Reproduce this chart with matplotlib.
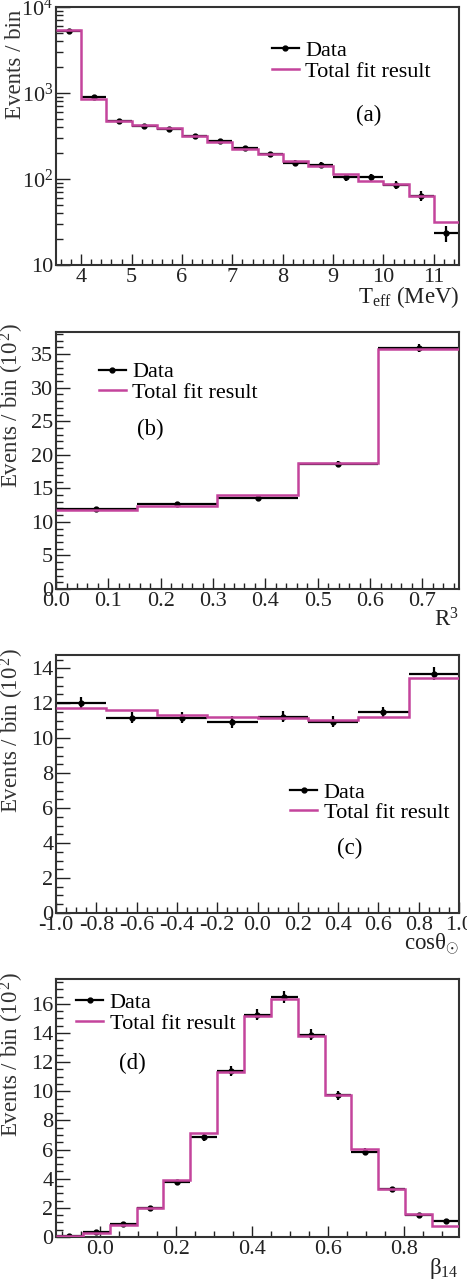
import numpy as np
import matplotlib
matplotlib.use("Agg")
import matplotlib.pyplot as plt
from matplotlib.lines import Line2D
from matplotlib.ticker import MultipleLocator, FixedLocator, FuncFormatter, LogLocator, NullFormatter

plt.rcParams['font.family'] = ['Liberation Serif', 'DejaVu Serif']
plt.rcParams['mathtext.fontset'] = 'custom'
plt.rcParams['mathtext.rm'] = 'Liberation Serif'
plt.rcParams['mathtext.it'] = 'Liberation Serif:italic'
plt.rcParams['axes.unicode_minus'] = False

FIT = '#c4449c'

# (a) effective kinetic energy, log scale
edges_a = [3.5, 4.0, 4.5, 5.0, 5.5, 6.0, 6.5, 7.0, 7.5, 8.0, 8.5, 9.0, 9.5, 10.0, 10.5, 11.0, 11.5]
data_a = [5280, 890, 470, 410, 385, 313, 274, 229, 193, 155, 146, 105, 105, 85, 64, 23.3]
err_a = [73, 30, 22, 20, 20, 18, 17, 15, 14, 12, 12, 10, 10, 9, 8, 5]
fit_a = [5400, 860, 475, 422, 390, 316, 269, 221, 195, 163, 140, 113, 95.5, 88, 64, 32]

# (b) R^3
edges_b = [0.0, 0.154, 0.308, 0.462, 0.616, 0.77]
data_b = [11.9, 12.6, 13.6, 18.6, 35.9]
err_b = [0.35, 0.36, 0.37, 0.43, 0.6]
fit_b = [11.8, 12.3, 14.0, 18.8, 35.8]

# (c) cos theta_sun
edges_c = [-1.0, -0.75, -0.5, -0.25, 0.0, 0.25, 0.5, 0.75, 1.0]
data_c = [12.0, 11.18, 11.18, 10.93, 11.24, 10.95, 11.47, 13.7]
err_c = [0.35, 0.34, 0.34, 0.33, 0.34, 0.33, 0.34, 0.37]
fit_c = [11.75, 11.6, 11.33, 11.22, 11.16, 11.05, 11.22, 13.47]

# (d) beta_14
edges_d = [-0.116, -0.0453, 0.0254, 0.0961, 0.1668, 0.2375, 0.3082, 0.3789,
           0.4496, 0.5203, 0.591, 0.6617, 0.7324, 0.8031, 0.8738, 0.945]
data_d = [0.05, 0.34, 0.92, 1.99, 3.75, 6.86, 11.37, 15.26, 16.48, 13.89, 9.73, 5.84, 3.27, 1.49, 1.12]
err_d = [0.02, 0.06, 0.1, 0.14, 0.19, 0.26, 0.34, 0.39, 0.41, 0.37, 0.31, 0.24, 0.18, 0.12, 0.11]
fit_d = [0.06, 0.27, 0.85, 1.97, 3.94, 7.14, 11.35, 15.2, 16.34, 13.82, 9.73, 6.06, 3.32, 1.6, 0.73]

fig = plt.figure(figsize=(4.67, 12.81), dpi=100)

ylab2 = 'Events / bin (10$^{\\,2}$)'
panels = [
    dict(rect=[0.120, 0.7931, 0.863, 0.2014], edges=edges_a, data=data_a, err=err_a, fit=fit_a,
         xlim=(3.5, 11.5), ylim=(10, 1e4), xlabel=r'T$_{\rm eff}$ (MeV)', ylabel='Events / bin',
         tag='(a)', tagpos=(0.744, 0.578), legpos=(0.536, 0.791), log=True, labtop=0.99,
         xmaj=1, xmin=0.2, xfmt='%d'),
    dict(rect=[0.120, 0.5402, 0.863, 0.2006], edges=edges_b, data=data_b, err=err_b, fit=fit_b,
         xlim=(0, 0.77), ylim=(0, 38.3), xlabel=r'R$^3$', ylabel=ylab2,
         tag='(b)', tagpos=(0.20, 0.619), legpos=(0.107, 0.804), log=False, labtop=1.035,
         xmaj=0.1, xmin=0.02, xfmt='%.1f', ymaj=5, ymin=1),
    dict(rect=[0.120, 0.2873, 0.863, 0.2014], edges=edges_c, data=data_c, err=err_c, fit=fit_c,
         xlim=(-1, 1), ylim=(0, 14.76), xlabel='cosθ$_{\\odot}$', ylabel=ylab2,
         tag='(c)', tagpos=(0.697, 0.252), legpos=(0.581, 0.428), log=False, labtop=1.027,
         xmaj=0.2, xmin=0.05, xfmt='%.1f', ymaj=2, ymin=0.5),
    dict(rect=[0.120, 0.0343, 0.863, 0.2014], edges=edges_d, data=data_d, err=err_d, fit=fit_d,
         xlim=(-0.116, 0.945), ylim=(0, 17.7), xlabel='β$_{14}$', ylabel=ylab2,
         tag='(d)', tagpos=(0.156, 0.674), legpos=(0.050, 0.868), log=False, labtop=1.027,
         xmaj=0.2, xmin=0.05, xfmt='%.1f', ymaj=2, ymin=0.5),
]

for p in panels:
    ax = fig.add_axes(p['rect'])
    edges = np.array(p['edges'])
    centers = 0.5 * (edges[:-1] + edges[1:])
    halfw = 0.5 * np.diff(edges)
    ax.errorbar(centers, p['data'], xerr=halfw, yerr=p['err'], fmt='o', color='black',
                ms=3.5, elinewidth=1.6, capsize=0, zorder=2)
    ax.stairs(p['fit'], edges, color=FIT, lw=1.8, zorder=3, baseline=None)
    ax.set_xlim(*p['xlim'])
    ax.set_ylim(*p['ylim'])
    if p['log']:
        ax.set_yscale('log')
        ax.yaxis.set_major_locator(FixedLocator([10, 100, 1000, 10000]))
        ax.yaxis.set_major_formatter(FuncFormatter(
            lambda v, pos: '10' if v < 50 else r'10$^{%d}$' % round(np.log10(v))))
        ax.yaxis.set_minor_locator(LogLocator(base=10, subs=np.arange(2, 10)))
        ax.yaxis.set_minor_formatter(NullFormatter())
    else:
        ax.yaxis.set_major_locator(MultipleLocator(p['ymaj']))
        ax.yaxis.set_minor_locator(MultipleLocator(p['ymin']))
        ax.yaxis.set_major_formatter(FuncFormatter(lambda v, pos: '%d' % round(v)))
    ax.xaxis.set_major_locator(MultipleLocator(p['xmaj']))
    ax.xaxis.set_minor_locator(MultipleLocator(p['xmin']))
    fmt = p['xfmt']
    ax.xaxis.set_major_formatter(FuncFormatter(lambda v, pos, f=fmt: f % (0.0 if abs(v) < 1e-9 else v)))

    ax.tick_params(which='both', direction='in', top=False, right=False, labelsize=16,
                   colors='#222222', pad=2)
    ax.tick_params(axis='x', which='major', length=8, width=1.0)
    ax.tick_params(axis='x', which='minor', length=4, width=1.0)
    ax.tick_params(axis='y', which='major', length=10, width=1.0)
    ax.tick_params(axis='y', which='minor', length=5, width=1.0)
    for s in ax.spines.values():
        s.set_linewidth(1.5)
        s.set_color('#333333')

    ax.set_xlabel(p['xlabel'], fontsize=16.5, loc='right', labelpad=-2, color='#222222')
    ax.set_ylabel(p['ylabel'], fontsize=16.5, loc='top', color='#333333')
    ax.yaxis.set_label_coords(-0.074, p['labtop'])

    ax.text(p['tagpos'][0], p['tagpos'][1], p['tag'], transform=ax.transAxes,
            fontsize=16.5, ha='left', va='center')
    h_data = Line2D([], [], color='black', lw=1.6, marker='o', ms=3.5)
    h_fit = Line2D([], [], color=FIT, lw=1.8)
    ax.legend([h_data, h_fit], ['Data', 'Total fit result'],
              loc='center left', bbox_to_anchor=p['legpos'], frameon=False, fontsize=16,
              handlelength=1.2, handletextpad=0.3, borderpad=0, borderaxespad=0,
              labelspacing=0.0)

fig.savefig('out.png', dpi=100)
